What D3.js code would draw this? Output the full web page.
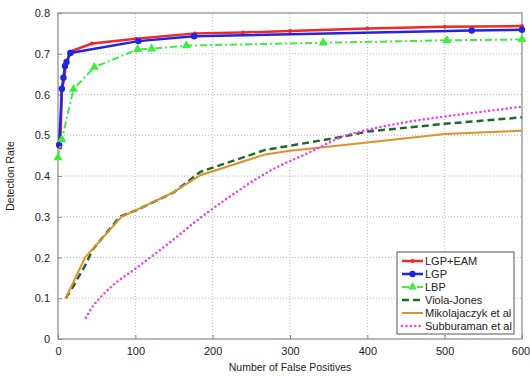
<!DOCTYPE html>
<html>
<head>
<meta charset="utf-8">
<script src="https://cdn.jsdelivr.net/npm/d3@7"></script>
<style>
  body { margin: 0; background: #fff; }
  text { font-family: "Liberation Sans", Arial, sans-serif; fill: #222; }
</style>
</head>
<body>
<div id="chart"></div>
<script>
// data
const xTicks = [0, 100, 200, 300, 400, 500, 600];
const yTicks = [0, 0.1, 0.2, 0.3, 0.4, 0.5, 0.6, 0.7, 0.8];

const lgpEamX = [3, 5, 8, 10, 12, 15, 44, 101, 177, 239, 300, 400, 500, 600];
const lgpEamY = [0.47, 0.61, 0.64, 0.67, 0.68, 0.705, 0.725, 0.737, 0.75, 0.752, 0.756, 0.762, 0.766, 0.768];

const lgpX = [1.5, 5, 7, 9, 11, 16, 104, 176, 535, 600];
const lgpY = [0.476, 0.614, 0.641, 0.67, 0.68, 0.702, 0.731, 0.743, 0.757, 0.759];

const lbpX = [0, 5, 20, 47, 103, 121, 166, 343, 503, 600];
const lbpY = [0.445, 0.49, 0.613, 0.667, 0.711, 0.712, 0.72, 0.727, 0.733, 0.735];

const violaX = [10, 20, 35, 45, 80, 100, 150, 184, 268, 367, 400, 500, 600];
const violaY = [0.1, 0.13, 0.18, 0.22, 0.30, 0.315, 0.36, 0.41, 0.464, 0.496, 0.509, 0.528, 0.544];

const mikoX = [10, 35, 82, 100, 149, 184, 268, 300, 400, 500, 600];
const mikoY = [0.1, 0.2, 0.30, 0.315, 0.36, 0.402, 0.453, 0.462, 0.482, 0.503, 0.511];

const subbX = [36, 45, 54, 70, 102, 140, 184, 235, 268, 332, 367, 400, 450, 500, 550, 600];
const subbY = [0.052, 0.08, 0.1, 0.13, 0.175, 0.23, 0.297, 0.366, 0.406, 0.464, 0.496, 0.513, 0.532, 0.546, 0.558, 0.57];

const series = [
  { name: 'LGP+EAM', xs: lgpEamX, ys: lgpEamY, color: '#f02828', width: 2.5, dash: null, marker: 'dot' },
  { name: 'LGP', xs: lgpX, ys: lgpY, color: '#1f25e0', width: 2.5, dash: null, marker: 'circle' },
  { name: 'LBP', xs: lbpX, ys: lbpY, color: '#3cee3c', width: 2, dash: '7,3,2,3', marker: 'triangle' },
  { name: 'Viola-Jones', xs: violaX, ys: violaY, color: '#1d6a2c', width: 2.5, dash: '7,4', marker: null },
  { name: 'Mikolajaczyk et al', xs: mikoX, ys: mikoY, color: '#e0902a', width: 2, dash: null, marker: null },
  { name: 'Subburaman et al', xs: subbX, ys: subbY, color: '#ee40ee', width: 2.6, dash: '0,4.4', cap: 'round', marker: null, smooth: true }
];

const width = 530, height = 376;
const margin = { top: 13, right: 8, bottom: 37, left: 58 };

const svg = d3.select('#chart').append('svg')
  .attr('width', width)
  .attr('height', height);

const x = d3.scaleLinear().domain([0, 600]).range([margin.left, width - margin.right]);
const y = d3.scaleLinear().domain([0, 0.8]).range([height - margin.bottom, margin.top]);

// griglia tratteggiata
svg.append('g').selectAll('line')
  .data(xTicks.slice(1, -1)).enter().append('line')
  .attr('x1', d => x(d)).attr('x2', d => x(d))
  .attr('y1', y(0)).attr('y2', y(0.8))
  .attr('stroke', '#b8b8b8').attr('stroke-dasharray', '1,2');
svg.append('g').selectAll('line')
  .data(yTicks.slice(1, -1)).enter().append('line')
  .attr('x1', x(0)).attr('x2', x(600))
  .attr('y1', d => y(d)).attr('y2', d => y(d))
  .attr('stroke', '#b8b8b8').attr('stroke-dasharray', '1,2');

// assi
const xAxis = svg.append('g')
  .attr('transform', `translate(0,${y(0)})`)
  .call(d3.axisBottom(x).tickValues(xTicks).tickSize(-4).tickPadding(8).tickFormat(d3.format('d')));
const yAxis = svg.append('g')
  .attr('transform', `translate(${x(0)},0)`)
  .call(d3.axisLeft(y).tickValues(yTicks).tickSize(-4).tickPadding(8).tickFormat(d => d === 0 ? '0' : d3.format('.1f')(d)));
[xAxis, yAxis].forEach(a => {
  a.select('.domain').remove();
  a.selectAll('line').attr('stroke', '#888');
  a.selectAll('text').style('font-size', '11px').style('font-family', '"Liberation Sans", Arial, sans-serif').attr('fill', '#222');
});
// l'ultima etichetta sta al bordo: la sposto un po' a sinistra
xAxis.selectAll('.tick').filter(d => d === 600).select('text').attr('dx', -1.5);

// cornice
svg.append('rect')
  .attr('x', x(0)).attr('y', y(0.8))
  .attr('width', x(600) - x(0)).attr('height', y(0) - y(0.8))
  .attr('fill', 'none').attr('stroke', '#888').attr('stroke-width', 1.2);

// curve
const plot = svg.append('g');
series.forEach(s => {
  const pts = s.xs.map((v, i) => [v, s.ys[i]]);
  const line = d3.line().x(d => x(d[0])).y(d => y(d[1]))
    .curve(s.smooth ? d3.curveMonotoneX : d3.curveLinear);
  plot.append('path')
    .datum(pts)
    .attr('d', line)
    .attr('fill', 'none')
    .attr('stroke', s.color)
    .attr('stroke-width', s.width)
    .attr('stroke-linecap', s.cap || 'butt')
    .attr('stroke-dasharray', s.dash);
  if (s.marker === 'dot') {
    plot.selectAll(null).data(pts).enter().append('circle')
      .attr('cx', d => x(d[0])).attr('cy', d => y(d[1])).attr('r', 2)
      .attr('fill', s.color);
  } else if (s.marker === 'circle') {
    plot.selectAll(null).data(pts).enter().append('circle')
      .attr('cx', d => x(d[0])).attr('cy', d => y(d[1])).attr('r', 3.2)
      .attr('fill', s.color);
  } else if (s.marker === 'triangle') {
    plot.selectAll(null).data(pts).enter().append('path')
      .attr('transform', d => `translate(${x(d[0])},${y(d[1])})`)
      .attr('d', d3.symbol(d3.symbolTriangle, 36))
      .attr('fill', s.color);
  }
});

// legenda
const lg = svg.append('g').attr('transform', 'translate(397,252)');
lg.append('rect').attr('width', 117).attr('height', 82)
  .attr('fill', '#fff').attr('stroke', '#555').attr('stroke-width', 1);
series.forEach((s, i) => {
  const row = lg.append('g').attr('transform', `translate(0,${9 + i * 13})`);
  row.append('line').attr('x1', 5).attr('x2', 26).attr('y1', 0).attr('y2', 0)
    .attr('stroke', s.color).attr('stroke-width', s.width)
    .attr('stroke-linecap', s.cap || 'butt')
    .attr('stroke-dasharray', s.dash);
  if (s.marker === 'dot') row.append('circle').attr('cx', 15.5).attr('r', 2).attr('fill', s.color);
  if (s.marker === 'circle') row.append('circle').attr('cx', 15.5).attr('r', 3.2).attr('fill', s.color);
  if (s.marker === 'triangle') row.append('path').attr('transform', 'translate(15.5,0)')
    .attr('d', d3.symbol(d3.symbolTriangle, 32)).attr('fill', s.color);
  row.append('text').attr('x', 28).attr('y', 4)
    .style('font-size', '11px').text(s.name);
});

// titoli degli assi
svg.append('text')
  .attr('x', (x(0) + x(600)) / 2).attr('y', 371)
  .attr('text-anchor', 'middle').style('font-size', '10.5px')
  .text('Number of False Positives');
svg.append('text')
  .attr('transform', `translate(14,${(y(0) + y(0.8)) / 2}) rotate(-90)`)
  .attr('text-anchor', 'middle').style('font-size', '10.5px')
  .text('Detection Rate');
</script>
</body>
</html>
